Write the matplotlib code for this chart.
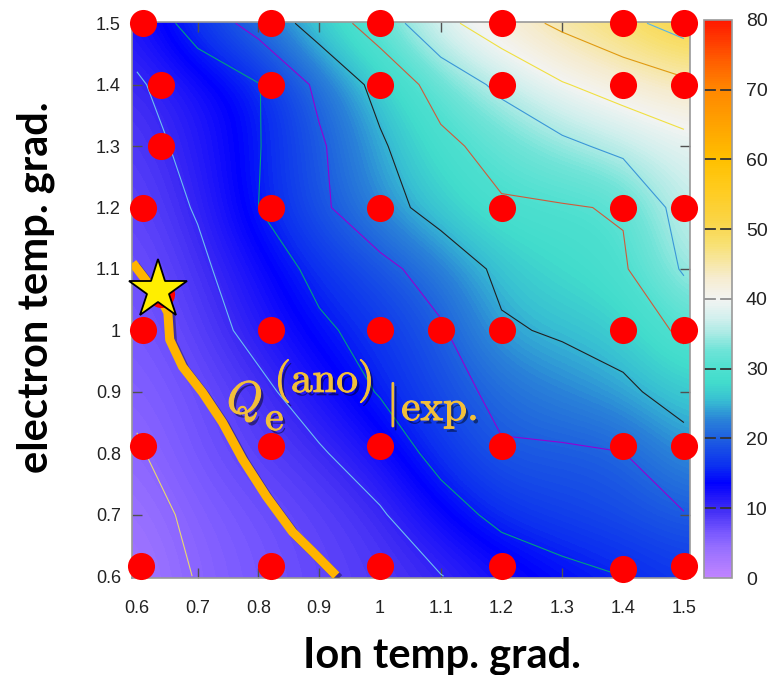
import numpy as np
import matplotlib
matplotlib.use('Agg')
import matplotlib.pyplot as plt
from matplotlib.colors import LinearSegmentedColormap
import matplotlib.patheffects as pe

# ---- data ----
ion_grad = [0.6, 0.7, 0.8, 0.9, 1.0, 1.1, 1.2, 1.3, 1.4, 1.5]
ele_grad = [0.6, 0.7, 0.8, 0.9, 1.0, 1.1, 1.2, 1.3, 1.4, 1.5]
# flux values, rows = electron temp grad (ascending), cols = ion temp grad
q_06 = [3.0, 5.2, 6.5, 7.8, 8.8, 9.9, 12.0, 13.8, 15.0, 16.5]
q_07 = [3.8, 5.7, 7.0, 8.2, 9.6, 13.0, 16.2, 17.5, 18.5, 19.8]
q_08 = [4.7, 6.8, 8.3, 9.6, 12.2, 16.5, 19.6, 19.4, 19.9, 23.5]
q_09 = [5.6, 7.2, 9.1, 12.0, 15.3, 18.4, 21.0, 22.8, 24.3, 26.5]
q_10 = [6.3, 8.3, 11.2, 14.3, 16.5, 19.5, 24.5, 25.5, 26.5, 31.0]
q_11 = [7.0, 9.2, 12.5, 16.2, 18.8, 22.0, 26.0, 28.0, 29.5, 35.5]
q_12 = [7.8, 10.3, 15.0, 19.2, 23.2, 26.8, 29.5, 29.7, 30.3, 37.0]
q_13 = [8.6, 11.2, 14.8, 19.4, 24.4, 28.9, 31.7, 34.0, 36.2, 38.5]
q_14 = [9.6, 12.1, 14.8, 21.0, 26.4, 32.0, 36.0, 39.7, 42.0, 44.0]
q_15 = [11.5, 17.0, 21.8, 27.1, 32.4, 38.7, 42.8, 45.9, 48.7, 52.0]

contour_levels = [5, 10, 15, 20, 25, 30, 35, 40, 45, 50]
contour_colors = ['#e8d870', '#6cc0f0', '#00a080', '#9400d3', '#202020',
                  '#d05a3a', '#3a96d8', '#f0e040', '#e09a10', '#56b4e9']

# simulation points
pts_x = [0.61, 0.82, 1.0, 1.2, 1.4, 1.5,
         0.64, 0.82, 1.0, 1.2, 1.4, 1.5,
         0.64,
         0.61, 0.82, 1.0, 1.2, 1.4, 1.5,
         0.64,
         0.61, 0.82, 1.0, 1.1, 1.2, 1.4, 1.5,
         0.61, 0.82, 1.0, 1.2, 1.4, 1.5,
         0.607, 0.82, 1.0, 1.2, 1.4, 1.5]
pts_y = [1.5, 1.5, 1.5, 1.5, 1.5, 1.5,
         1.4, 1.4, 1.4, 1.4, 1.4, 1.4,
         1.3,
         1.2, 1.2, 1.2, 1.2, 1.2, 1.2,
         1.06,
         1.0, 1.0, 1.0, 1.0, 1.0, 1.0, 1.0,
         0.812, 0.812, 0.812, 0.812, 0.812, 0.812,
         0.616, 0.616, 0.616, 0.616, 0.612, 0.616]

# experimental flux curve
exp_x = [0.593, 0.62, 0.64, 0.651, 0.654, 0.675, 0.708, 0.741, 0.774, 0.813, 0.856, 0.889, 0.928]
exp_y = [1.110, 1.075, 1.05, 1.029, 0.985, 0.941, 0.899, 0.850, 0.790, 0.730, 0.672, 0.640, 0.601]
star_x = [0.635]
star_y = [1.065]

cb_ticks = [0, 10, 20, 30, 40, 50, 60, 70, 80]
tick_vals = [0.6, 0.7, 0.8, 0.9, 1.0, 1.1, 1.2, 1.3, 1.4, 1.5]
tick_labels = ['0.6', '0.7', '0.8', '0.9', '1', '1.1', '1.2', '1.3', '1.4', '1.5']

# ---- colormap ----
cm_stops = [(0.0, '#c084ff'), (4, '#9870ff'), (6.4, '#7858ff'), (10, '#3a28f4'),
            (13.5, '#0000ff'), (16, '#0c30f0'), (20, '#1e60e0'), (22.6, '#2a82d8'),
            (25.5, '#38c0d2'), (28, '#42dccc'), (30, '#4ee0d0'), (32.7, '#70e4d8'),
            (35, '#a8eae4'), (37.4, '#d4f0ee'), (40, '#f3f4f2'), (43, '#f6ecd0'),
            (48, '#f8e070'), (51.3, '#fad445'), (55.6, '#ffcc20'), (60, '#ffc000'),
            (67, '#ff9800'), (70, '#ff8800'), (74, '#ff6000'), (80, '#ff1a00')]
cmap = LinearSegmentedColormap.from_list('flux', [(v / 80.0, c) for v, c in cm_stops])

Z = np.array([q_06, q_07, q_08, q_09, q_10, q_11, q_12, q_13, q_14, q_15])
X = np.array(ion_grad)
Y = np.array(ele_grad)

plt.rcParams['font.family'] = ['Liberation Sans', 'DejaVu Sans']
plt.rcParams['mathtext.fontset'] = 'cm'

fig = plt.figure(figsize=(7.77, 6.75), dpi=100)
ax = fig.add_axes([0.1699, 0.1437, 0.7181, 0.8237])
cax = fig.add_axes([0.906, 0.1437, 0.036, 0.8267])

im = ax.imshow(Z, origin='lower', extent=(0.55, 1.55, 0.55, 1.55), cmap=cmap,
               vmin=0, vmax=80, interpolation='bicubic', aspect='auto')
ax.contour(X, Y, Z, levels=contour_levels, colors=contour_colors, linewidths=0.8)

# experimental curve with shadow
ax.plot(exp_x, exp_y, color='#ffb400', lw=6.5, solid_capstyle='butt', zorder=4,
        path_effects=[pe.SimpleLineShadow(offset=(2, -2), shadow_color='k', alpha=0.35),
                      pe.Normal()])

ax.plot(pts_x, pts_y, 'o', color='#ff0000', ms=19.5, mec='none', zorder=5, clip_on=False)
ax.plot(star_x, star_y, '*', color='#ffee00', ms=44, mec='black', mew=1.3, zorder=6, clip_on=False)

# label Q_e^(ano)|_exp. composed from pieces
lab_col = '#f2bf3a'
shadow = [pe.SimplePatchShadow(offset=(2, -2.5), shadow_rgbFace='k', alpha=0.45),
          pe.Stroke(linewidth=0.7, foreground=lab_col), pe.Normal()]
pieces = [(0.748, 0.865, r'$Q$', 33),
          (0.811, 0.838, r'$\mathrm{e}$', 30),
          (0.826, 0.900, r'$\mathrm{(ano)}$', 31),
          (1.011, 0.861, r'$|$', 32),
          (1.035, 0.854, r'$\mathrm{exp.}$', 31)]
for px, py, s, fs in pieces:
    ax.text(px, py, s, fontsize=fs, color=lab_col, va='baseline', ha='left', zorder=7,
            path_effects=shadow)

ax.set_xlim(0.592, 1.51)
ax.set_ylim(0.597, 1.502)
ax.set_xticks(tick_vals)
ax.set_xticklabels(tick_labels)
ax.set_yticks(tick_vals)
ax.set_yticklabels(tick_labels)
ax.tick_params(direction='in', length=7, width=1, color='#505050', top=True, right=True,
               labelsize=13, labelcolor='#222222')
ax.tick_params(axis='x', pad=16)
ax.tick_params(axis='y', pad=8)
for s in ax.spines.values():
    s.set_color('#999999')
    s.set_linewidth(1.2)

ax.set_xlabel('Ion temp. grad.', fontsize=30, fontweight='bold', family=['Lato', 'DejaVu Sans'])
ax.set_ylabel('electron temp. grad.', fontsize=30, fontweight='bold', family=['Lato', 'DejaVu Sans'])
ax.xaxis.set_label_coords(0.556, -0.105)
ax.yaxis.set_label_coords(-0.138, 0.523)

# colorbar
cb = fig.colorbar(im, cax=cax, ticks=cb_ticks)
cax.tick_params(length=0, labelsize=14, pad=10, labelcolor='#222222')
for t in cb_ticks[1:-1]:
    c = '#909090' if t == 40 else '#333333'
    cax.axhline(t, color=c, lw=1.3, xmin=0.0, xmax=0.38)
    cax.axhline(t, color=c, lw=1.3, xmin=0.62, xmax=1.0)
cb.outline.set_edgecolor('#999999')
cb.outline.set_linewidth(1.2)

fig.savefig('out.png', dpi=100)
